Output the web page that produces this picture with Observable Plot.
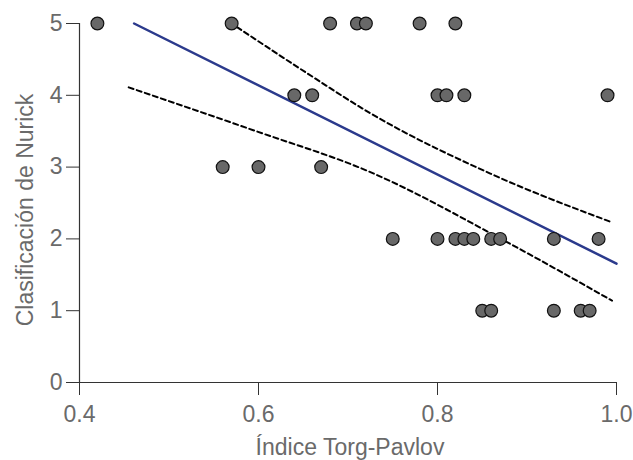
<!DOCTYPE html>
<html>
<head>
<meta charset="utf-8">
<script src="https://cdn.jsdelivr.net/npm/d3@7"></script>
<script src="https://cdn.jsdelivr.net/npm/@observablehq/plot@0.6"></script>
<style>
  html, body { margin: 0; padding: 0; background: #fff; }
</style>
</head>
<body>
<div id="chart"></div>
<script>
// Scatter points: Índice Torg-Pavlov (x) vs Clasificación de Nurick (y)
const xs5 = [0.42, 0.57, 0.68, 0.71, 0.72, 0.78, 0.82];
const xs4 = [0.64, 0.66, 0.80, 0.81, 0.83, 0.99];
const xs3 = [0.56, 0.60, 0.67];
const xs2 = [0.75, 0.80, 0.82, 0.83, 0.84, 0.86, 0.87, 0.93, 0.98];
const xs1 = [0.85, 0.86, 0.93, 0.96, 0.97];

// Regression line and confidence band
const fitX = [0.461, 1.0];
const fitY = [5.0, 1.656];
const upperX = [0.576, 0.654, 0.725, 0.859, 0.995];
const upperY = [4.95, 4.31, 3.75, 2.91, 2.23];
const lowerX = [0.455, 0.595, 0.725, 0.874, 0.995];
const lowerY = [4.11, 3.51, 2.93, 1.98, 1.14];

const xTicks = [0.4, 0.6, 0.8, 1.0];
const yTicks = [0, 1, 2, 3, 4, 5];
const xLabel = "Índice Torg-Pavlov";
const yLabel = "Clasificación de Nurick";

const points = [
  ...xs5.map(x => ({x, y: 5})),
  ...xs4.map(x => ({x, y: 4})),
  ...xs3.map(x => ({x, y: 3})),
  ...xs2.map(x => ({x, y: 2})),
  ...xs1.map(x => ({x, y: 1}))
];
const fit = fitX.map((x, i) => ({x, y: fitY[i]}));
const upper = upperX.map((x, i) => ({x, y: upperY[i]}));
const lower = lowerX.map((x, i) => ({x, y: lowerY[i]}));

const chart = Plot.plot({
  width: 633,
  height: 460,
  marginLeft: 79,
  marginRight: 17,
  marginTop: 23,
  marginBottom: 78,
  style: {fontFamily: "'Liberation Sans', Arial, sans-serif", fontSize: "23px", background: "#fff"},
  x: {domain: [0.4, 1.0]},
  y: {domain: [0, 5]},
  marks: [
    Plot.axisX({ticks: xTicks, tickSize: 13, tickPadding: 10, tickFormat: d3.format(".1f"), fill: "#6a6a6a", stroke: "#333", label: null}),
    Plot.axisY({ticks: yTicks, tickSize: 13, tickPadding: 4, tickFormat: d3.format("d"), fill: "#6a6a6a", stroke: "#333", label: null}),
    Plot.ruleY([0], {x1: 0.4, x2: 1.0, stroke: "#333", strokeWidth: 1.2}),
    Plot.ruleX([0.4], {y1: 0, y2: 5, stroke: "#333", strokeWidth: 1.2}),
    Plot.line(upper, {x: "x", y: "y", curve: "monotone-x", stroke: "#000", strokeWidth: 2, strokeDasharray: "5,3.5"}),
    Plot.line(lower, {x: "x", y: "y", curve: "monotone-x", stroke: "#000", strokeWidth: 2, strokeDasharray: "5,3.5"}),
    Plot.line(fit, {x: "x", y: "y", stroke: "#2b3a8c", strokeWidth: 2.5}),
    Plot.dot(points, {x: "x", y: "y", r: 6.4, fill: "#686868", stroke: "#111", strokeWidth: 1.2}),
    Plot.text([xLabel], {frameAnchor: "bottom", dx: 2, dy: 65, lineAnchor: "middle", textAnchor: "middle", fill: "#6a6a6a"}),
    Plot.text([yLabel], {frameAnchor: "left", dx: -54, dy: 7, rotate: -90, lineAnchor: "middle", textAnchor: "middle", fill: "#6a6a6a"})
  ]
});
document.getElementById("chart").appendChild(chart);
</script>
</body>
</html>
